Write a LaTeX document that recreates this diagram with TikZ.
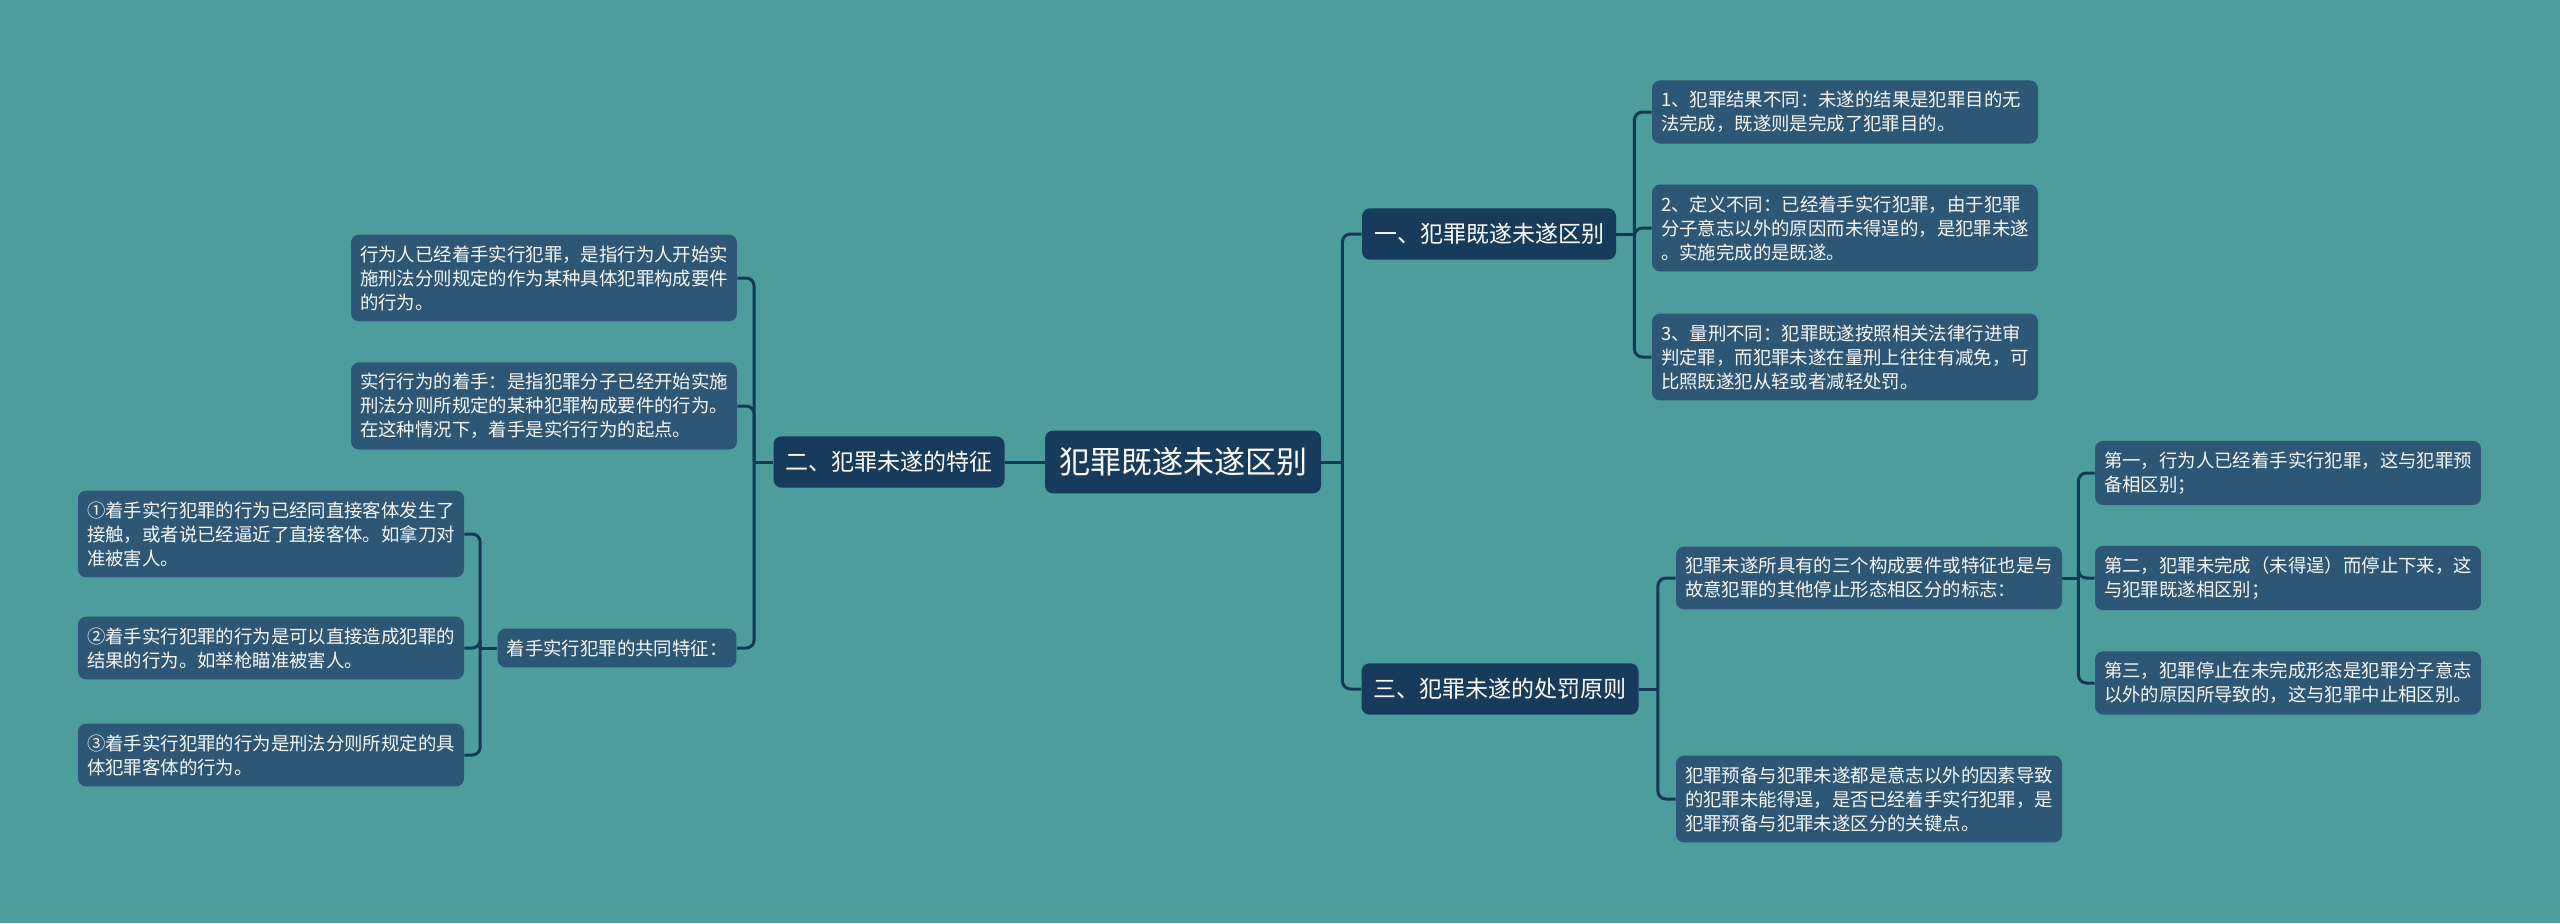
\documentclass[tikz,border=0pt]{standalone}
\usepackage{fontspec}
\setmainfont{Noto Sans CJK SC}
\usepackage{tikz}
\definecolor{mapbg}{RGB}{78,157,157}
\definecolor{topicblue}{RGB}{23,59,90}
\definecolor{leafblue}{RGB}{46,86,117}
\definecolor{linkblue}{RGB}{19,58,84}
\tikzset{
  rootbox/.style={fill=topicblue, text=white, rounded corners=4pt,
                  font=\fontsize{15.5}{18}\selectfont,
                  inner xsep=7pt, inner ysep=8.5pt},
  topicbox/.style={fill=topicblue, text=white, rounded corners=4pt,
                   font=\fontsize{11.5}{14}\selectfont,
                   inner xsep=6pt, inner ysep=7.5pt},
  notebox/.style={fill=leafblue, text=white!94!mapbg, rounded corners=4pt,
                  font=\fontsize{9.2}{12}\selectfont, align=left,
                  inner xsep=4.5pt, inner ysep=5.4pt},
  leafbox/.style={notebox, text width=184pt},
  linkline/.style={draw=linkblue, line width=1.5pt, rounded corners=4pt}
}

\begin{document}
\begin{tikzpicture}[x=0.5pt, y=-0.5pt]
        \useasboundingbox (0,0) rectangle (2560,923);
        \fill[mapbg] (0,0) rectangle (2560,923);

        \node[rootbox] (root) at (1183,462) {犯罪既遂未遂区别};

        \node[topicbox] (diff) at (1489,234) {一、犯罪既遂未遂区别};
        \node[topicbox] (trait) at (889,462) {二、犯罪未遂的特征};
        \node[topicbox] (rule) at (1500,689) {三、犯罪未遂的处罚原则};

        \node[leafbox] (diffa) at (1845,112) {1、犯罪结果不同：未遂的结果是犯罪目的无\\法完成，既遂则是完成了犯罪目的。};
        \node[leafbox] (diffb) at (1845,228) {2、定义不同：已经着手实行犯罪，由于犯罪\\分子意志以外的原因而未得逞的，是犯罪未遂\\。实施完成的是既遂。};
        \node[leafbox] (diffc) at (1845,357) {3、量刑不同：犯罪既遂按照相关法律行进审\\判定罪，而犯罪未遂在量刑上往往有减免，可\\比照既遂犯从轻或者减轻处罚。};

        \node[leafbox] (traita) at (544,278) {行为人已经着手实行犯罪，是指行为人开始实\\施刑法分则规定的作为某种具体犯罪构成要件\\的行为。};
        \node[leafbox] (traitb) at (544,406) {实行行为的着手：是指犯罪分子已经开始实施\\刑法分则所规定的某种犯罪构成要件的行为。\\在这种情况下，着手是实行行为的起点。};
        \node[notebox] (traitc) at (617,648) {着手实行犯罪的共同特征：};

        \node[leafbox] (marka) at (271,534) {①着手实行犯罪的行为已经同直接客体发生了\\接触，或者说已经逼近了直接客体。如拿刀对\\准被害人。};
        \node[leafbox] (markb) at (271,648) {②着手实行犯罪的行为是可以直接造成犯罪的\\结果的行为。如举枪瞄准被害人。};
        \node[leafbox] (markc) at (271,755) {③着手实行犯罪的行为是刑法分则所规定的具\\体犯罪客体的行为。};

        \node[leafbox] (rulea) at (1869,578) {犯罪未遂所具有的三个构成要件或特征也是与\\故意犯罪的其他停止形态相区分的标志：};
        \node[leafbox] (ruleb) at (1869,799) {犯罪预备与犯罪未遂都是意志以外的因素导致\\的犯罪未能得逞，是否已经着手实行犯罪，是\\犯罪预备与犯罪未遂区分的关键点。};

        \node[leafbox] (stepa) at (2288,473) {第一，行为人已经着手实行犯罪，这与犯罪预\\备相区别；};
        \node[leafbox] (stepb) at (2288,578) {第二，犯罪未完成（未得逞）而停止下来，这\\与犯罪既遂相区别；};
        \node[leafbox] (stepc) at (2288,683) {第三，犯罪停止在未完成形态是犯罪分子意志\\以外的原因所导致的，这与犯罪中止相区别。};

        \coordinate (roottrunk) at ([xshift=10.5pt]root.east);
        \coordinate (difftrunk) at ([xshift=9pt]diff.east);
        \coordinate (ruletrunk) at ([xshift=9.5pt]rule.east);
        \coordinate (atrunk) at ([xshift=8pt]rulea.east);
        \coordinate (traittrunk) at ([xshift=-9.5pt]trait.west);
        \coordinate (ctrunk) at ([xshift=-8.5pt]traitc.west);

        \draw[linkline] (root.west) -- (trait.east);
        \draw[linkline] (root.east) -- (roottrunk);
        \draw[linkline] (roottrunk) |- (diff.west);
        \draw[linkline] (roottrunk) |- (rule.west);

        \draw[linkline] (diff.east) -- (difftrunk);
        \draw[linkline] (difftrunk) |- (diffa.west);
        \draw[linkline] (difftrunk) |- (diffb.west);
        \draw[linkline] (difftrunk) |- (diffc.west);

        \draw[linkline] (trait.west) -- (traittrunk);
        \draw[linkline] (traittrunk) |- (traita.east);
        \draw[linkline] (traittrunk) |- (traitb.east);
        \draw[linkline] (traittrunk) |- (traitc.east);

        \draw[linkline] (traitc.west) -- (ctrunk);
        \draw[linkline] (ctrunk) |- (marka.east);
        \draw[linkline] (ctrunk) |- (markb.east);
        \draw[linkline] (ctrunk) |- (markc.east);

        \draw[linkline] (rule.east) -- (ruletrunk);
        \draw[linkline] (ruletrunk) |- (rulea.west);
        \draw[linkline] (ruletrunk) |- (ruleb.west);

        \draw[linkline] (rulea.east) -- (atrunk);
        \draw[linkline] (atrunk) |- (stepa.west);
        \draw[linkline] (atrunk) |- (stepb.west);
        \draw[linkline] (atrunk) |- (stepc.west);
\end{tikzpicture}
\end{document}
